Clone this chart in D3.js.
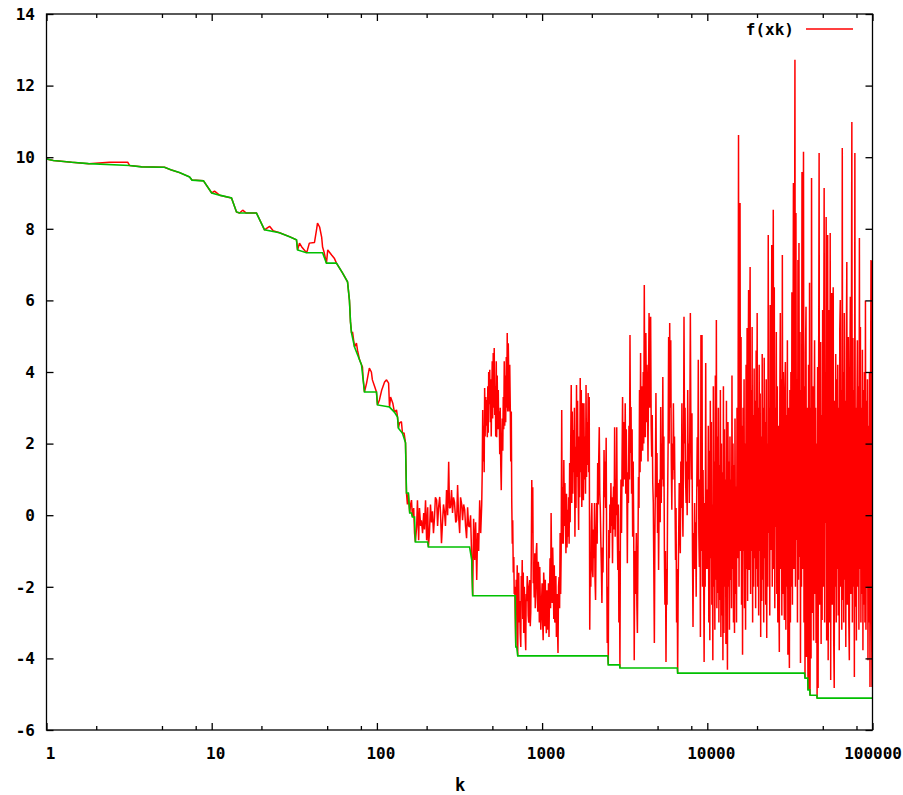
<!DOCTYPE html>
<html><head><meta charset="utf-8">
<script src="https://cdn.jsdelivr.net/npm/d3@7"></script>
<style>body{margin:0;background:#fff;} svg{display:block;}</style>
</head><body>
<svg id="chart" width="903" height="795"></svg>
<script>
// ---------------- data ----------------
const xTickValues = [1, 10, 100, 1000, 10000, 100000];
const xTickLabels = ["1", "10", "100", "1000", "10000", "100000"];
const xMinorTicks = [2, 5, 8, 20, 50, 80, 200, 500, 800, 2000, 5000, 8000, 20000, 50000, 80000];
const yTickValues = [-6, -4, -2, 0, 2, 4, 6, 8, 10, 12, 14];
const seriesName = "f(xk)";
const xLabel = "k";

// f(xk), iterations 1..149  [k, f]
const redSmooth = [[1,9.95],[1.1,9.91],[1.42,9.86],[1.8,9.82],[2.4,9.86],[3.1,9.86],[3.18,9.77],[3.76,9.73],[5.18,9.72],[5.71,9.64],[6.38,9.57],[7.34,9.45],[7.6,9.36],[8.92,9.34],[10,9.0],[10.4,9.05],[11.15,8.94],[13.18,8.86],[14.13,8.47],[14.74,8.44],[15.4,8.52],[16.2,8.44],[18.67,8.44],[20.87,7.97],[22.4,8.07],[23.5,7.95],[25.73,7.89],[29.58,7.78],[32.6,7.69],[33.1,7.41],[34,7.6],[35,7.5],[37.5,7.33],[38,7.41],[39,7.6],[41.9,7.62],[43.1,7.97],[43.7,8.16],[45,8.05],[46.3,7.77],[46.9,7.49],[48,7.33],[49.5,7.04],[50.4,7.41],[53.2,7.27],[55.2,7.18],[56.9,7.04],[61.9,6.77],[66.4,6.52],[68.2,6.0],[69.2,5.4],[70.2,5.09],[71.2,5.12],[73.2,4.7],[75.2,4.81],[76.3,4.61],[78.5,4.34],[80.7,4.2],[81.8,4.14],[82.4,3.86],[84.1,3.44],[86.6,3.69],[90,4.11],[92.6,4.0],[93.9,3.78],[96.8,3.6],[99.4,3.44],[100.8,3.08],[103.6,3.22],[107,3.5],[111.3,3.72],[114.4,3.78],[117.7,3.69],[119.2,3.02],[121,3.3],[124.8,3.13],[127.6,2.88],[131.4,2.94],[133.3,2.74],[135,2.43],[137,2.58],[140.8,2.61],[142.8,2.29],[146,2.3],[149,2.02]];

// f(xk), iterations 151..982  [k, f]
const redMid = [[151,0.62],[153,0.3],[155,0.62],[158,0.06],[160,0.3],[162,0.42],[164,-0.04],[167,0.2],[169,-0.5],[171,-0.75],[174,-0.33],[176,0.42],[179,-0.7],[181,0.2],[184,-0.3],[186,-0.14],[189,-0.5],[192,0.06],[194,-0.4],[197,0.42],[200,-0.7],[203,0.22],[205,-0.89],[208,-0.5],[211,0.3],[214,-0.2],[217,0.11],[220,-0.5],[223,-0.1],[226,0.5],[230,0.42],[233,-0.3],[236,0.2],[240,0.51],[243,0.0],[246,-0.78],[250,-0.14],[253,0.3],[257,0.05],[260,-0.3],[264,0.7],[268,0.0],[272,1.49],[275,0.2],[279,0.22],[283,0.7],[287,0.06],[291,0.5],[295,0.36],[300,-0.2],[304,-0.14],[308,0.84],[312,0.0],[317,-0.5],[321,0.5],[326,0.3],[330,-0.14],[335,0.3],[340,0.15],[344,-0.3],[349,-0.64],[354,0.22],[359,-0.3],[364,-0.33],[369,0.0],[375,-1.25],[380,-2.25],[385,-0.1],[391,-1.25],[396,-0.2],[402,-1.81],[407,-0.5],[413,-1.0],[419,0.42],[425,-0.5],
[431,0.3],[434,1.2],[437,2.94],[440,1.5],[443,2.5],[446,1.2],[449,3.55],[452,2.2],[456,3.3],[459,2.5],[462,3.22],[466,2.18],[469,3.6],[472,2.3],[475,4.0],[479,3.1],[482,4.06],[486,2.6],[489,3.8],[492,2.2],[495,3.22],[499,4.3],[502,2.7],[506,4.53],[510,3.0],[513,4.67],[517,2.8],[521,3.6],[524,2.2],[528,4.3],[531,2.18],[535,3.9],[539,2.4],[543,3.5],[546,2.4],[550,2.9],[554,1.7],[558,3.0],[562,1.4],[566,0.7],[570,2.0],[574,2.7],[578,1.8],[582,3.3],[586,2.4],[590,4.3],[594,2.5],[598,3.9],[602,2.6],[607,4.42],[611,3.0],[615,5.09],[619,2.9],[624,4.8],[628,3.95],[633,2.9],[637,4.2],[642,2.94],[646,1.5],[651,2.9],[655,0.42],
[660,-0.8],[664,-0.14],[669,-1.6],[674,-1.17],[678,-2.2],[683,-2.0],[688,-2.9],[693,-3.68],[697,-1.8],[702,-2.73],[707,-1.4],[712,-3.93],[717,-2.1],[722,-1.61],[727,-3.0],[732,-2.4],[737,-3.3],[743,-3.68],[748,-1.7],[753,-2.2],[758,-1.25],[764,-2.9],[769,-1.6],[774,-3.29],[780,-2.0],[785,-2.5],[791,-3.4],[796,-3.77],[801,-2.2],[807,-2.4],[813,-1.7],[819,-2.0],[824,-2.8],[830,-3.0],[836,-2.0],[842,-1.81],[848,-3.1],[854,-2.7],[860,-1.2],[866,0.98],[872,-0.5],[878,0.78],[884,-1.9],[890,-1.5],[896,-2.3],[903,-1.06],[909,-2.6],[915,-2.2],[922,-1.0],[928,-0.78],[935,-2.0],[941,-2.7],[948,-1.3],[955,-1.5],[962,-3.0],[968,-1.45],[975,-2.4],[982,-3.2]];

// f(xk), iterations 1000..100000: one array of successive samples per 1/8-decade of k
const denseEdges = [1000, 1334, 1778, 2371, 3162, 4217, 5623, 7499, 10000, 13335, 17783, 23714, 31623, 42170, 56234, 74989, 100000];
const dense0 = [-1.9,-3.0,-3.49,-1.6,-2.0,-3.1,-1.8,-2.73,-3.3,-2.1,-2.45,-3.2,-1.9,-3.4,-2.2,-1.2,-2.6,0.06,-1.5,-2.45,-0.9,-1.67,-2.9,-1.4,-3.0,-2.84,-1.7,-3.4,-2.2,-3.1,-3.85,-2.0,-1.73,-2.6,-0.5,-2.2,-1.0,2.94,-0.8];
const dense1 = [0.79,-0.8,1.54,-0.3,0.9,-0.14,-1.06,0.6,-0.9,0.15,-0.6,0.5,-0.8,1.46,-0.2,2.0,3.64,0.34,2.9,0.6,2.38,1.2,3.0,-0.6,1.91,0.2,3.64,1.07,3.2,0.8,-0.41,2.2,0.5,3.83,1.2,3.5,0.23,2.7,3.13];
const dense2 = [0.42,3.13,1.0,2.2,0.6,3.64,1.07,2.6,1.4,3.41,1.2,3.3,-3.2,-1.06,-2.0,-0.2,0.34,-1.5,-1.73,-0.4,-1.2,0.34,-1.8,-2.37,-0.5,0.34,-0.8,1.46,0.3,1.6,2.46,0.6,0.15,-0.78,-1.5,-2.45,-0.9,-1.6,-0.08];
const dense3 = [1.82,0.5,1.5,0.2,2.16,-1.06,-3.57,-2.0,-4.18,-0.41,-1.2,0.3,-0.5,0.9,-0.3,0.5,-1.34,0.2,0.8,-0.4,2.46,-0.6,1.0,0.0,2.46,-0.5,-1.53,0.3,-3.0,-1.0,-4.27,-0.14,1.0,-0.5,1.5,3.3,0.8,2.6,2.18];
const dense4 = [1.0,3.13,0.6,2.4,0.9,-1.34,1.2,0.34,2.5,1.0,5.03,1.74,3.02,0.6,2.4,-0.6,1.5,-0.3,-4.05,-1.0,-2.2,-1.73,-0.5,-2.5,-3.29,-1.0,1.07,0.2,3.5,1.2,4.53,1.5,3.6,2.74,1.8,4.0,2.0,6.43,2.4];
const dense5 = [2.18,5.09,2.6,4.2,3.3,1.5,3.8,5.65,3.0,4.5,5.54,2.5,1.63,2.8,0.9,0.34,-1.5,-3.57,-0.6,1.0,3.41,0.5,1.74,-0.5,0.9,-1.53,0.3,1.0,-0.2,3.02,0.34,2.0,1.0,3.86,0.8,2.2,-1.06,-2.5,-1.0];
const dense6 = [-4.1,-1.5,-2.5,0.34,2.0,4.98,2.0,5.37,3.0,4.89,1.5,0.15,2.0,1.0,3.13,1.26,2.2,0.5,-1.25,0.2,-3.0,-1.5,-4.41,-2.0,-0.5,0.9,-0.4,-1.06,1.5,0.2,3.13,0.5,-0.6,1.5,5.54,2.0,3.0,1.0,0.34];
const dense7 = [1.5,0.0,3.5,1.0,2.0,0.34,2.5,5.65,2.5,1.0,2.85,-1.0,-3.12,-0.5,-1.5,0.34,-1.5,-0.2,-2.28,0.5,2.18,0.8,4.34,-0.5,-1.45,1.0,-3.4,5.03,-1.0,5.03,-2.0,1.26,-1.2,-4.1,0.34,-2.0,4.25,-1.5,0.7];
const dense8 = [0.7,-1.5,2.5,-3.0,1.8,-3.49,3.2,-1.2,2.6,-2.5,0.3,-4.05,3.6,-2.0,1.5,-3.2,3.9,-1.8,5.45,-2.6,2.2,-2.17,3.0,-3.0,1.4,-2.37,3.5,-3.4,2.0,-2.8,1.2,-4.05,3.6,-3.29,2.4,-2.0,1.0,-3.6,3.2,-1.5,-4.32];
const dense9 = [2.6,-2.0,1.5,-3.2,2.2,-1.81,1.0,-2.6,3.9,-1.5,2.0,-3.0,1.4,-3.29,2.7,-2.2,0.8,-3.0,3.0,-1.2,1.5,10.62,-2.0,2.5,8.72,-1.0,4.98,-2.5,2.5,-3.9,3.0,-1.0,3.8,-2.6,2.0,-3.2,4.2,-1.5,5.23,-2.4,3.2];
const dense10 = [6.29,-1.53,4.0,6.93,-2.2,3.5,-1.0,5.26,-3.0,2.8,-2.0,4.1,-1.2,3.2,-2.6,4.6,-1.5,5.65,-2.0,3.0,-2.8,4.2,-1.0,3.4,-3.4,2.2,-2.4,4.5,-1.8,3.0,-3.0,4.4,-1.2,2.6,-2.5,3.8,-3.43,2.0,-2.0,7.83,-0.5];
const dense11 = [3.0,-2.8,5.87,-0.97,3.5,7.55,-2.0,4.0,8.53,-1.5,6.37,-2.6,3.0,-0.33,5.12,-2.2,3.6,-3.0,2.5,-2.0,-3.82,3.2,5.65,-1.5,3.8,-2.8,7.27,-2.2,4.0,-1.0,-2.93,3.5,4.28,-3.2,2.8,-2.0,4.89,-3.9,3.0,-2.5,-4.27];
const dense12 = [3.5,-3.0,4.0,-2.0,6.23,-2.5,3.0,9.28,-1.5,4.5,12.72,-2.0,8.44,-0.69,3.8,-3.0,7.13,-1.8,7.6,-1.17,5.12,-4.13,3.5,-2.0,9.59,-1.5,4.0,10.15,-3.0,3.6,-4.55,4.53,5.82,-3.96,3.0,-2.5,-4.88,4.2,-4.88,6.49,-5.03];
const dense13 = [3.0,-4.0,9.42,-2.0,-2.73,3.6,-3.5,2.5,4.89,-2.2,3.0,-3.57,2.0,-5.11,4.14,-4.83,3.5,10.12,-2.5,3.0,4.84,-3.6,2.8,-2.93,5.73,-2.0,3.5,9.14,-3.0,4.0,-0.22,8.33,-3.5,4.5,7.83,-4.05,3.2,5.73,-3.0,7.88,-4.6];
const dense14 = [3.0,6.21,-2.5,4.0,6.37,-3.5,-4.83,3.2,-2.0,4.5,-3.0,3.8,-1.5,4.2,-2.8,3.0,-3.77,5.17,6.01,-2.0,3.5,-3.2,10.26,-2.37,4.0,-3.0,5.65,-1.8,3.2,-3.68,4.5,7.07,-2.5,3.6,4.98,-3.0,-4.05,3.8,6.1,-2.2,4.5];
const dense15 = [10.98,-3.0,4.95,-2.0,3.5,-4.52,10.12,-2.56,3.0,-3.5,2.5,4.89,-2.0,3.6,-3.2,7.74,-1.5,5.26,-3.0,3.0,-2.2,4.62,-3.77,3.5,-2.5,4.0,-3.0,6.0,-3.2,3.2,-2.0,3.8,-4.05,2.5,-3.0,4.0,-4.8,3.0,7.13,-2.5,-4.8,7.1];
const denseSegments = [dense0, dense1, dense2, dense3, dense4, dense5, dense6, dense7, dense8, dense9, dense10, dense11, dense12, dense13, dense14, dense15];

// running minimum of f(xk)  [k, min f]
const greenMin = [[1,9.95],[1.1,9.91],[1.42,9.86],[1.8,9.82],[3.18,9.77],[3.76,9.73],[5.18,9.72],[5.71,9.64],[6.38,9.57],[7.34,9.45],[7.6,9.36],[8.92,9.34],[10,9.0],[11.15,8.94],[13.18,8.86],[14.13,8.47],[14.74,8.44],[18.67,8.44],[20.87,7.97],[25.73,7.89],[29.58,7.78],[32.6,7.69],[33.1,7.41],[37.5,7.33],[46.9,7.33],[49.5,7.04],[56.9,7.04],[61.9,6.77],[66.4,6.52],[68.2,6.0],[69.2,5.4],[70.2,5.09],[73.2,4.7],[78.5,4.34],[80.7,4.2],[84.1,3.44],[99.4,3.44],[100.8,3.08],[119.2,3.02],[127.6,2.88],[133.3,2.74],[135,2.43],[142.8,2.29],[149,2.02],[151,0.62],[155,0.62],[158,0.06],[162,0.06],[164,-0.05],[169,-0.05],[171,-0.75],[203,-0.75],[205,-0.89],[364,-0.89],[375,-1.25],[380,-2.25],[688,-2.25],[693,-3.68],[702,-3.68],[712,-3.93],[2500,-3.93],[2515,-4.18],[2945,-4.18],[2959,-4.27],[6590,-4.27],[6614,-4.41],[38800,-4.41],[39036,-4.55],[40550,-4.55],[40714,-4.88],[41700,-4.88],[41875,-5.03],[46000,-5.03],[46202,-5.11],[100000,-5.11]];

// ---------------- drawing ----------------
(function () {
const svg = d3.select("#chart");
const pL = 46.5, pR = 872.5, pT = 14, pB = 730;
const x = d3.scaleLog().domain([1, 100000]).range([pL, pR]);
const y = d3.scaleLinear().domain([-6, 14]).range([pB, pT]);
const FONT = "'DejaVu Sans Mono', monospace";

// table of [k, f] for the dense part: successive samples spread evenly (in log k) inside each segment
const densePts = [];
denseSegments.forEach((vals, j) => {
  const k0 = denseEdges[j], k1 = denseEdges[j + 1];
  const last = j === denseSegments.length - 1;
  const n = vals.length;
  vals.forEach((f, i) => {
    const t = last ? i / (n - 1) : i / n;
    densePts.push([k0 * Math.pow(k1 / k0, t), f]);
  });
});

svg.append("rect").attr("width", 903).attr("height", 795).attr("fill", "#fff");

svg.append("defs").append("clipPath").attr("id", "plotclip")
  .append("rect").attr("x", pL).attr("y", pT).attr("width", pR - pL).attr("height", pB - pT);

const line = d3.line().x(d => x(d[0])).y(d => y(d[1]));
const plot = svg.append("g").attr("clip-path", "url(#plotclip)");

plot.append("path")
  .datum(redSmooth.concat(redMid, densePts))
  .attr("d", line).attr("fill", "none").attr("stroke", "#ff0000")
  .attr("stroke-width", 1.5).attr("stroke-linejoin", "bevel");

plot.append("path")
  .datum(greenMin)
  .attr("d", line).attr("fill", "none").attr("stroke", "#00c000")
  .attr("stroke-width", 1.6);

function styleAxis(g) {
  g.select(".domain").remove();
  g.selectAll(".tick line").attr("stroke", "#000").attr("stroke-width", 1.3);
  g.selectAll(".tick text").remove();
}
svg.append("g").attr("transform", `translate(0,${pB})`)
  .call(d3.axisBottom(x).tickValues(xTickValues).tickSize(-7).tickFormat("")).call(styleAxis);
svg.append("g").attr("transform", `translate(0,${pB})`)
  .call(d3.axisBottom(x).tickValues(xMinorTicks).tickSize(-4).tickFormat("")).call(styleAxis);
svg.append("g").attr("transform", `translate(0,${pT})`)
  .call(d3.axisTop(x).tickValues(xTickValues).tickSize(-7).tickFormat("")).call(styleAxis);
svg.append("g").attr("transform", `translate(0,${pT})`)
  .call(d3.axisTop(x).tickValues(xMinorTicks).tickSize(-4).tickFormat("")).call(styleAxis);
svg.append("g").attr("transform", `translate(${pL},0)`)
  .call(d3.axisLeft(y).tickValues(yTickValues).tickSize(-7).tickFormat("")).call(styleAxis);
svg.append("g").attr("transform", `translate(${pR},0)`)
  .call(d3.axisRight(y).tickValues(yTickValues).tickSize(-7).tickFormat("")).call(styleAxis);

svg.append("rect").attr("x", pL).attr("y", pT).attr("width", pR - pL).attr("height", pB - pT)
  .attr("fill", "none").attr("stroke", "#000").attr("stroke-width", 1.3);

svg.append("g").selectAll("text").data(xTickValues).join("text")
  .attr("x", (d, i) => i === xTickValues.length - 1 ? 902 : x(d) + 4).attr("y", 759)
  .attr("text-anchor", (d, i) => i === xTickValues.length - 1 ? "end" : "middle")
  .attr("font-family", FONT).attr("font-weight", "bold")
  .attr("font-size", 16).attr("fill", "#000")
  .text((d, i) => xTickLabels[i]);

svg.append("g").selectAll("text").data(yTickValues).join("text")
  .attr("x", 35).attr("y", d => y(d)).attr("dy", "0.36em")
  .attr("text-anchor", "end").attr("font-family", FONT).attr("font-weight", "bold")
  .attr("font-size", 16).attr("fill", "#000")
  .text(d => d);

svg.append("text").attr("x", 460).attr("y", 791).attr("text-anchor", "middle")
  .attr("font-family", FONT).attr("font-weight", "bold").attr("font-size", 17).attr("fill", "#000")
  .text(xLabel);

svg.append("text").attr("x", 794).attr("y", 35).attr("text-anchor", "end")
  .attr("font-family", FONT).attr("font-weight", "bold").attr("font-size", 16).attr("fill", "#000")
  .text(seriesName);
svg.append("line").attr("x1", 806).attr("x2", 853).attr("y1", 29).attr("y2", 29)
  .attr("stroke", "#ff0000").attr("stroke-width", 1.5);
})();
</script>
</body></html>
